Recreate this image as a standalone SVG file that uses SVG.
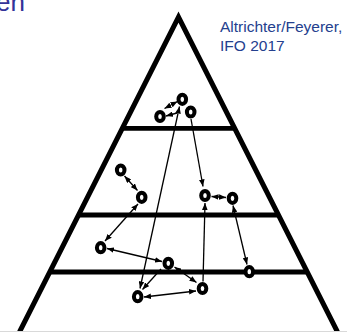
<svg xmlns="http://www.w3.org/2000/svg" width="347" height="332" viewBox="0 0 347 332">
<style>
.pyr{fill:none;stroke:#000;stroke-width:5;stroke-linejoin:miter}
.bar{stroke:#000;stroke-width:4.8}
.node ellipse{fill:#fff;stroke:#000;stroke-width:4}
.conn line{stroke:#000;stroke-width:1.3;marker-end:url(#ah)}
.conn line.dbl{marker-start:url(#ah)}
.src{font-family:"Liberation Sans",Arial,sans-serif;font-size:15.5px;fill:#24408e}
.title{font-family:"Liberation Sans",Arial,sans-serif;font-size:26px;fill:#333399}
</style>
<defs>
<marker id="ah" viewBox="0 0 10 8" refX="10" refY="4" markerWidth="7" markerHeight="5.6" markerUnits="userSpaceOnUse" orient="auto-start-reverse">
<path d="M0,0 L10,4 L0,8 z" fill="#000"/>
</marker>
</defs>
<rect width="347" height="332" fill="#fff"/>
<text class="title" x="25" y="11" text-anchor="end">en</text>
<g id="pyramid">
<polyline class="pyr" points="19.5,332 178.5,17 337.5,332"/>
<line class="bar" x1="122.4" y1="128.3" x2="234.6" y2="128.3"/>
<line class="bar" x1="78.5" y1="215" x2="278.5" y2="215"/>
<line class="bar" x1="49.7" y1="272" x2="307.3" y2="272"/>
</g>
<line x1="0" y1="331.5" x2="347" y2="331.5" stroke="#d9d9d9" stroke-width="1"/>
<g id="source">
<text class="src" x="220" y="32">Altrichter/Feyerer,</text>
<text class="src" x="220" y="50.5">IFO 2017</text>
</g>
<g id="connectors" class="conn">
<line class="dbl" x1="164.5" y1="108.5" x2="177.5" y2="101.5"/>
<line x1="177" y1="113" x2="166" y2="116"/>
<line class="dbl" x1="140" y1="288.5" x2="179.5" y2="106.5"/>
<line x1="191" y1="119" x2="203" y2="186.5"/>
<line class="dbl" x1="124.5" y1="176" x2="137.5" y2="190.5"/>
<line class="dbl" x1="211.5" y1="196.5" x2="226" y2="197.5"/>
<line x1="203" y1="281.5" x2="205" y2="203"/>
<line class="dbl" x1="233" y1="205.5" x2="247" y2="264.5"/>
<line class="dbl" x1="138" y1="204" x2="105" y2="241"/>
<line class="dbl" x1="107" y1="248.5" x2="162" y2="261.5"/>
<line x1="161" y1="269" x2="142.5" y2="289.5"/>
<line class="dbl" x1="174.5" y1="267" x2="196.5" y2="282.5"/>
<line class="dbl" x1="144" y1="297" x2="196" y2="291"/>
</g>
<g id="nA" class="node"><ellipse cx="182.3" cy="99.3" rx="3.8" ry="4.6"/></g>
<g id="nB" class="node"><ellipse cx="160" cy="116.5" rx="3.8" ry="4.6"/></g>
<g id="nC" class="node"><ellipse cx="190.7" cy="112" rx="3.8" ry="4.6"/></g>
<g id="nD" class="node"><ellipse cx="120.7" cy="170" rx="3.8" ry="4.6"/></g>
<g id="nE" class="node"><ellipse cx="141.7" cy="197.3" rx="3.8" ry="4.6"/></g>
<g id="nF" class="node"><ellipse cx="205" cy="195.5" rx="3.8" ry="4.6"/></g>
<g id="nG" class="node"><ellipse cx="232.5" cy="198.3" rx="3.8" ry="4.6"/></g>
<g id="nH" class="node"><ellipse cx="100.7" cy="247.7" rx="3.8" ry="4.6"/></g>
<g id="nI" class="node"><ellipse cx="168.3" cy="263.3" rx="3.8" ry="4.6"/></g>
<g id="nJ" class="node"><ellipse cx="202.5" cy="288.5" rx="3.8" ry="4.6"/></g>
<g id="nK" class="node"><ellipse cx="137.7" cy="296.7" rx="3.8" ry="4.6"/></g>
<g id="nL" class="node"><ellipse cx="249.3" cy="271.7" rx="3.8" ry="4.6" fill="none"/></g>
</svg>
